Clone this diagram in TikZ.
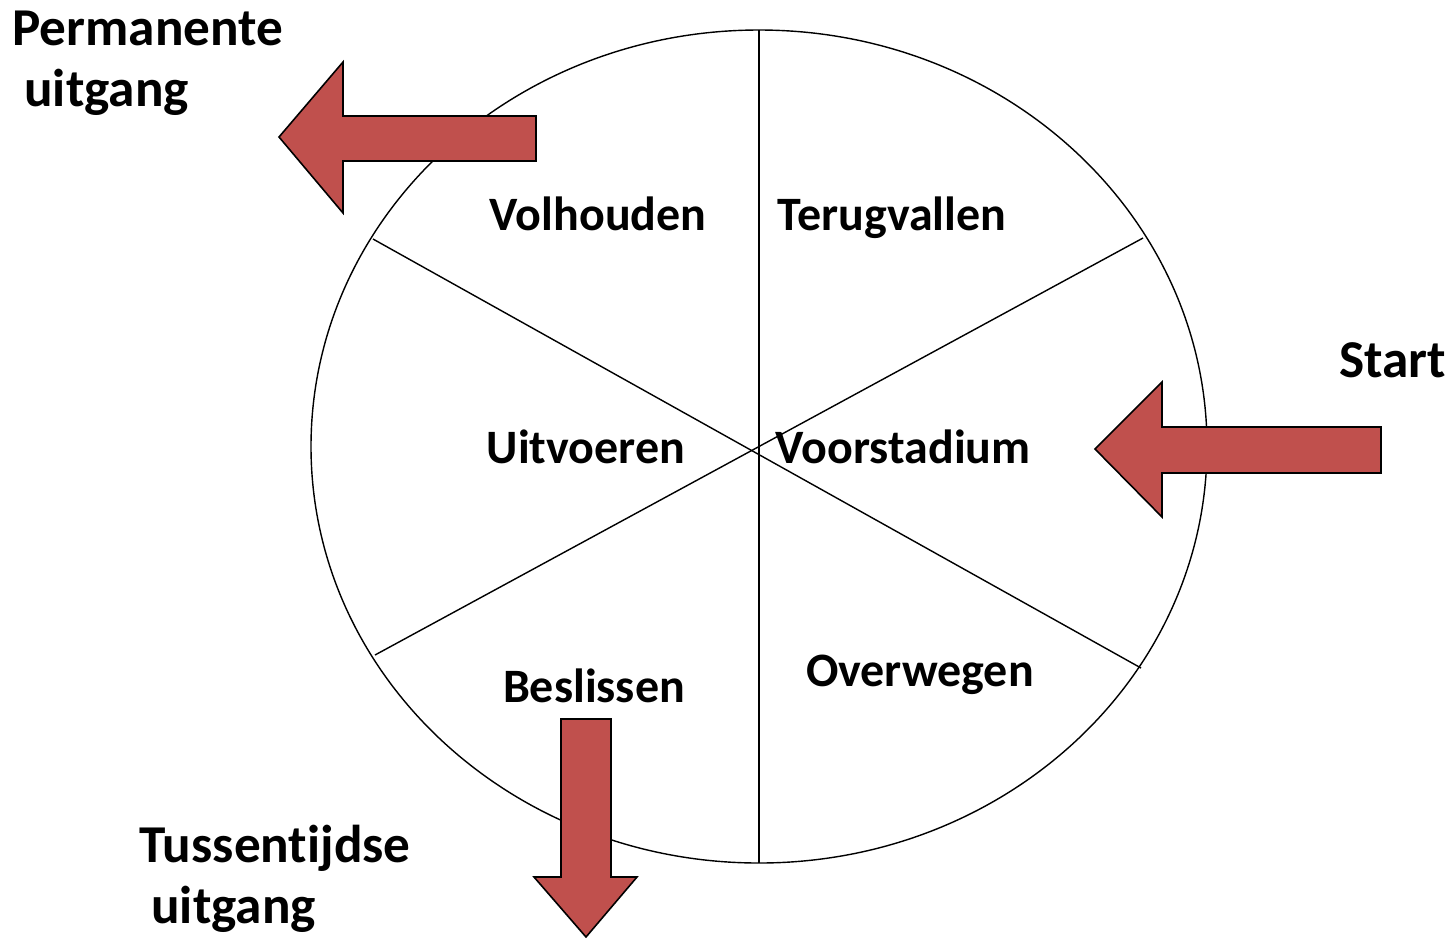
\documentclass[tikz,border=0pt]{standalone}
\usepackage{fontspec}
\setmainfont{Carlito}[Ligatures=NoCommon]
\usetikzlibrary{positioning}
\definecolor{brick}{RGB}{192,80,77}
\tikzset{
  wheel/.style={draw=black,line width=0.8pt},
  stage/.style={font=\fontsize{27.3}{32}\selectfont\bfseries,anchor=base,inner sep=0pt},
  exitlabel/.style={font=\fontsize{30.3}{34.7}\selectfont\bfseries,anchor=base west,
    align=left,inner sep=0pt},
  blockarrow/.style={draw=black,line width=0.9pt,fill=brick,line join=miter},
}
\begin{document}
\begin{tikzpicture}[x=0.02cm,y=-0.02cm]
  \useasboundingbox (0,0) rectangle (1452,938);
  % wheel
  \draw[wheel] (759,446.5) ellipse [x radius=448, y radius=416.5];
  \coordinate (top) at (759,30);
  \coordinate (bot) at (759,863);
  \coordinate (ul) at (373,239);
  \coordinate (lr) at (1141,668);
  \coordinate (ur) at (1143,238);
  \coordinate (ll) at (375,655);
  \draw[wheel] (top) -- (bot);
  \draw[wheel] (ul) -- (lr);
  \draw[wheel] (ur) -- (ll);
  % stages
  \node[stage] (volhouden) at (598,230) {Volhouden};
  \node[stage] (terugvallen) at (892,230) {Terugvallen};
  \node[stage] (uitvoeren) at (586,463) {Uitvoeren};
  \node[stage] (voorstadium) at (903,463) {Voorstadium};
  \node[stage] (beslissen) at (594,702) {Beslissen};
  \node[stage] (overwegen) at (920,686) {Overwegen};
  % in and out
  \draw[blockarrow] (279,137) -- (343,62) -- (343,116) -- (536,116) -- (536,161)
    -- (343,161) -- (343,213) -- cycle;
  \draw[blockarrow] (1095,449) -- (1162,382) -- (1162,427) -- (1381,427) -- (1381,473)
    -- (1162,473) -- (1162,517) -- cycle;
  \draw[blockarrow] (586,937) -- (534,877) -- (561,877) -- (561,719) -- (611,719)
    -- (611,877) -- (637,877) -- cycle;
  \node[exitlabel] (permanent) at (12,106) {Permanente\\\hspace*{0.226em}uitgang};
  \node[exitlabel] (start) at (1339,377) {Start};
  \node[exitlabel] (tussen) at (139,923) {Tussentijdse\\\hspace*{0.226em}uitgang};
\end{tikzpicture}
\end{document}
